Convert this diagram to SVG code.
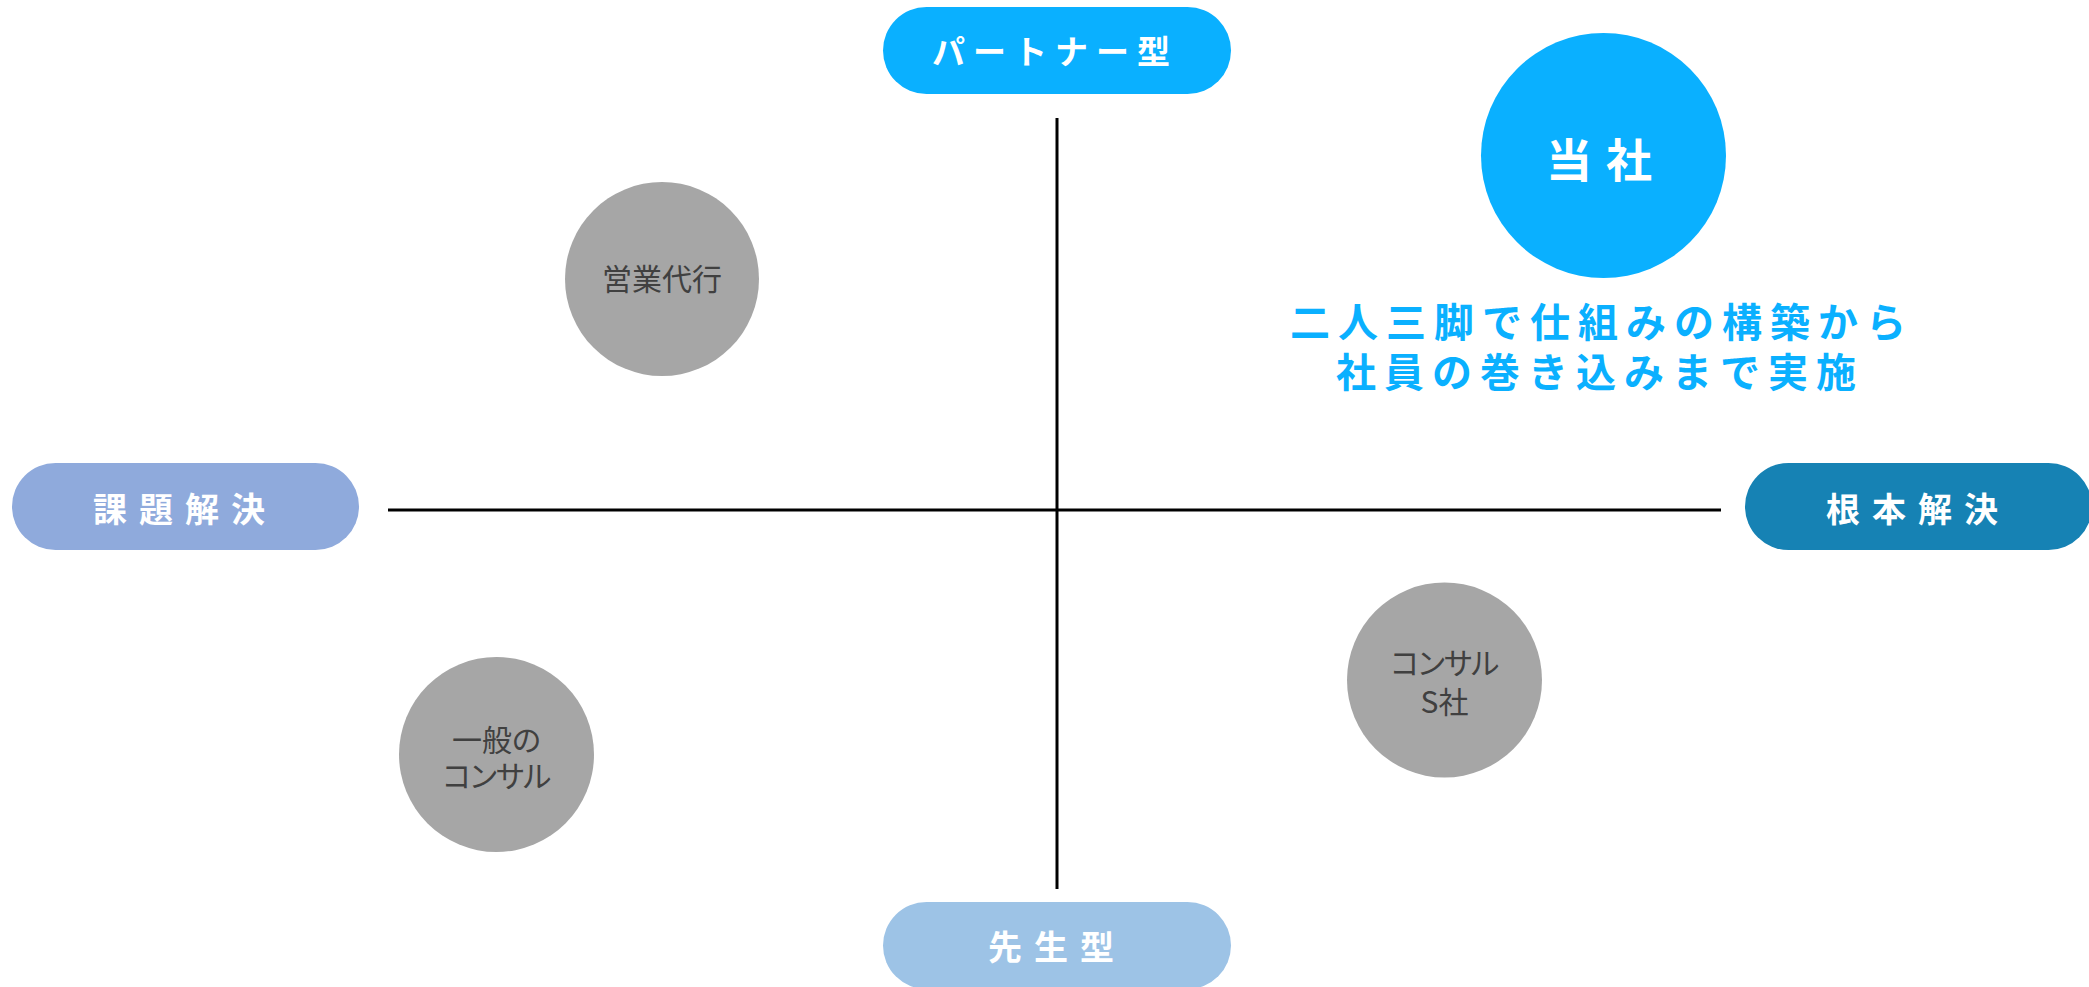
<svg xmlns="http://www.w3.org/2000/svg" width="2089" height="987" viewBox="0 0 2089 987">
<style>
.pill{font-family:"Noto Sans CJK JP","Noto Sans",sans-serif;font-weight:700;fill:#ffffff;text-anchor:middle;dominant-baseline:central}
.gc{fill:#A6A6A6}
.gt{font-family:"Noto Sans CJK JP","Noto Sans",sans-serif;font-size:30px;fill:#404040;text-anchor:middle;dominant-baseline:central;font-feature-settings:"palt"}
.ax{stroke:#000000;stroke-width:3}
.desc{font-family:"Noto Sans CJK JP","Noto Sans",sans-serif;font-weight:700;font-size:40px;letter-spacing:8px;fill:#0AB0FF;text-anchor:middle;dominant-baseline:central}
</style>
<rect width="2089" height="987" fill="#ffffff"/>
<g id="connectors">
<line class="ax" x1="1057" y1="118" x2="1057" y2="889"/>
<line class="ax" x1="388" y1="510" x2="1721" y2="510"/>
</g>
<g id="partner">
<rect x="883" y="7" width="348" height="87" rx="43.5" fill="#0AB0FF"/>
<text class="pill" x="1055" y="50" font-size="33" letter-spacing="8">パートナー型</text>
</g>
<g id="kadai">
<rect x="12" y="463" width="347" height="87" rx="43.5" fill="#8FAADC"/>
<text class="pill" x="185" y="507" font-size="34" letter-spacing="12">課題解決</text>
</g>
<g id="konpon">
<rect x="1745" y="463" width="347" height="87" rx="43.5" fill="#1682B4"/>
<text class="pill" x="1918" y="507" font-size="34" letter-spacing="12">根本解決</text>
</g>
<g id="sensei">
<rect x="883" y="902" width="348" height="87" rx="43.5" fill="#9DC3E6"/>
<text class="pill" x="1057" y="945" font-size="34" letter-spacing="12">先生型</text>
</g>
<g id="tousha">
<circle cx="1603.5" cy="155.5" r="122.5" fill="#0AB0FF"/>
<text class="pill" x="1606" y="157" font-size="46" letter-spacing="14">当社</text>
</g>
<g id="tousha-desc">
<text class="desc" x="1602" y="320">二人三脚で仕組みの構築から</text>
<text class="desc" x="1600" y="370">社員の巻き込みまで実施</text>
</g>
<g id="eigyo">
<circle class="gc" cx="662" cy="279" r="97"/>
<text class="gt" x="662" y="277" font-size="32">営業代行</text>
</g>
<g id="ippan">
<circle class="gc" cx="496.5" cy="754.5" r="97.5"/>
<text class="gt" x="496.5" y="738">一般の</text>
<text class="gt" x="496.5" y="774" letter-spacing="-1">コンサル</text>
</g>
<g id="consul-s">
<circle class="gc" cx="1444.5" cy="680" r="97.5"/>
<text class="gt" x="1444.5" y="661" letter-spacing="-1">コンサル</text>
<text class="gt" x="1444.5" y="700">S社</text>
</g>
</svg>
